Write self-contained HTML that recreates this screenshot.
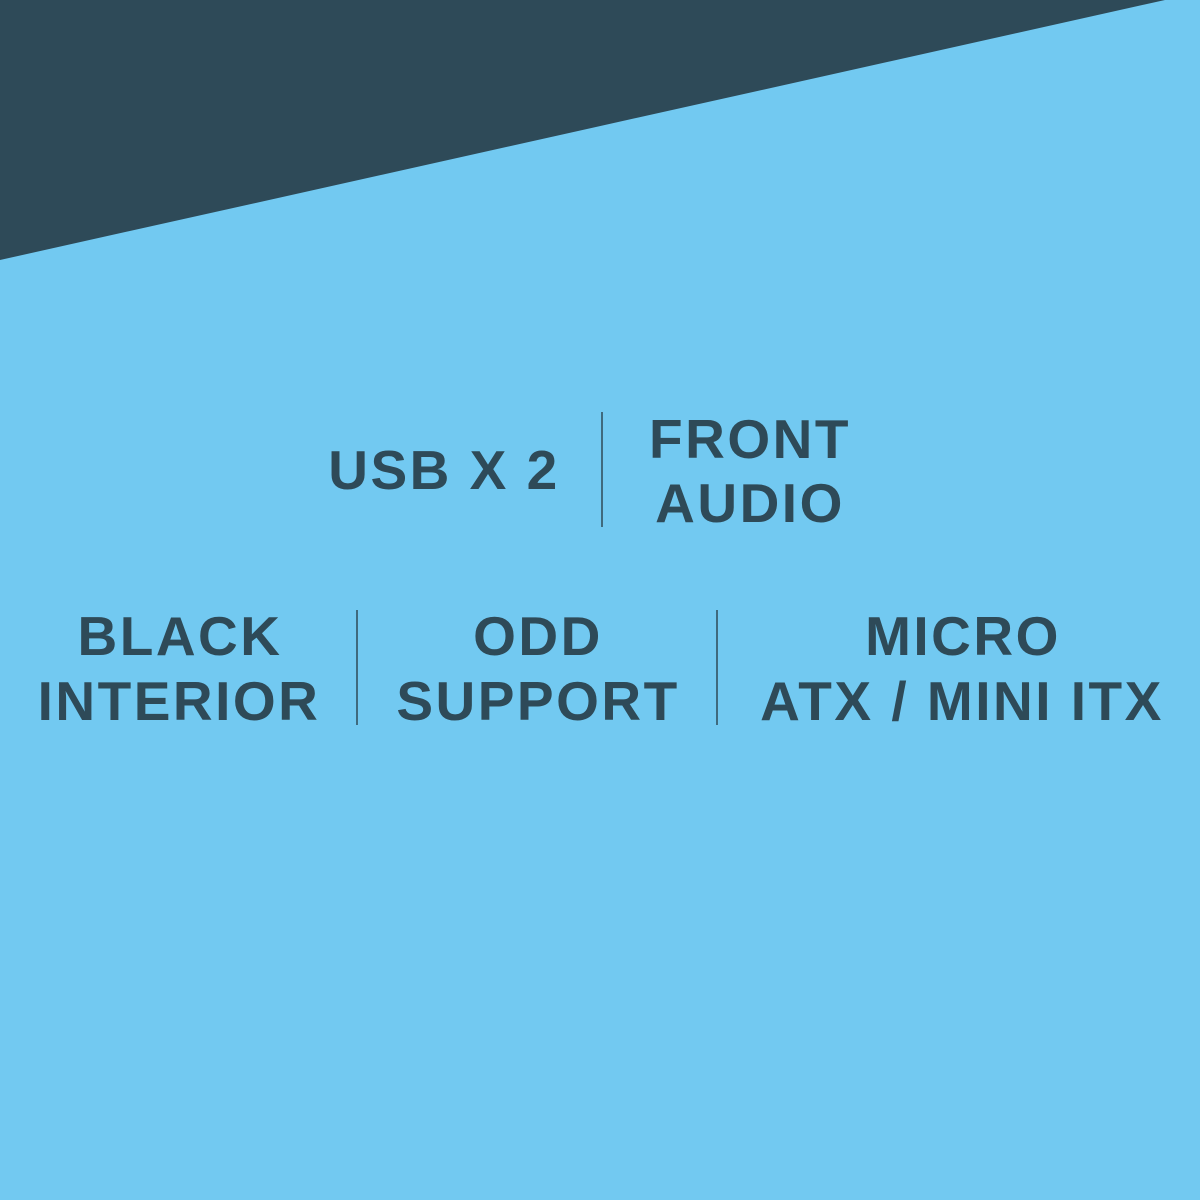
<!DOCTYPE html>
<html><head><meta charset="utf-8"><style>
html,body{margin:0;padding:0;width:1200px;height:1200px;overflow:hidden;background:#72C9F1}
svg{display:block}
text{font-family:"Liberation Sans",sans-serif;font-weight:bold;font-size:55px;fill:#2E4A58;letter-spacing:2.5px}
</style></head><body>
<svg width="1200" height="1200" viewBox="0 0 1200 1200">
<rect width="1200" height="1200" fill="#72C9F1"/>
<polygon points="0,0 1165,0 0,260" fill="#2E4A58"/>
<g text-anchor="middle">
<text x="444" y="489">USB X 2</text>
<text x="750" y="458">FRONT</text>
<text x="750" y="522">AUDIO</text>
<text x="180" y="655">BLACK</text>
<text x="179" y="720">INTERIOR</text>
<text x="538" y="655">ODD</text>
<text x="538" y="720">SUPPORT</text>
<text x="963" y="655">MICRO</text>
<text x="962" y="720">ATX / MINI ITX</text>
</g>
<g stroke="#2E4A58" stroke-width="1.5">
<line x1="602" y1="412" x2="602" y2="527"/>
<line x1="357" y1="610" x2="357" y2="725"/>
<line x1="717" y1="610" x2="717" y2="725"/>
</g>
</svg>
</body></html>
